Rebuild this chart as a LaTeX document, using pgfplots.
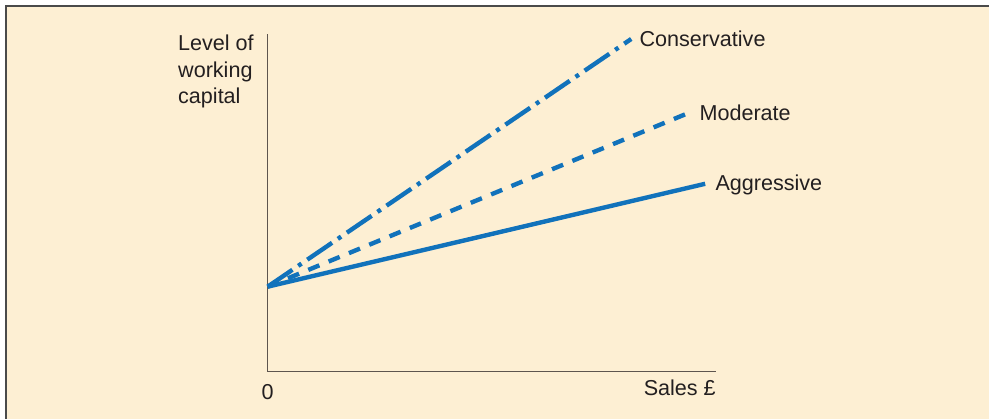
\documentclass[border=0pt]{standalone}
\usepackage{pgfplots}
\pgfplotsset{compat=1.18}
\usepackage{fontspec}
\setmainfont{Liberation Sans}
\definecolor{bg}{HTML}{FDEFD3}
\definecolor{lineblue}{HTML}{1172BB}
\definecolor{axisgrey}{HTML}{5E554E}
\definecolor{txt}{HTML}{231F20}
\definecolor{frame}{HTML}{4A4A4A}
\tikzset{lbl/.style={text=txt,inner sep=0,font=\fontsize{10.8}{13.25}\selectfont}}
\begin{document}
\begin{tikzpicture}[x=0.5pt,y=0.5pt]
\fill[white] (0,0) rectangle (990,419);
\fill[bg] (6,0) rectangle (990,413);
\draw[frame,line width=1.2pt] (6,0) -- (6,413) -- (990,413);
\begin{axis}[
  at={(134pt,23.5pt)}, anchor=origin,
  scale only axis, width=224.5pt, height=169pt,
  xmin=0, xmax=449, ymin=0, ymax=338,
  axis x line*=bottom, axis y line*=left,
  axis line style={axisgrey,line width=0.8pt,-},
  xtick=\empty, ytick=\empty,
  clip=false,
]
\addplot[lineblue,line width=2.2pt,dash pattern=on 15pt off 3.5pt on 2pt off 3.5pt] coordinates {(0,85) (364,333)};
\addplot[lineblue,line width=2.2pt,dash pattern=on 6pt off 5pt] coordinates {(0,85) (424,260)};
\addplot[lineblue,line width=2.2pt] coordinates {(0,85) (438,188)};
\node[lbl,anchor=west] at (axis cs:372,333) {Conservative};
\node[lbl,anchor=west] at (axis cs:432,259) {Moderate};
\node[lbl,anchor=west] at (axis cs:448,187) {Aggressive};
\node[lbl,anchor=north west,align=left] at (axis cs:-90,337) {Level of\\working\\capital};
\node[lbl,anchor=center] at (axis cs:0,-21) {0};
\node[lbl,anchor=east] at (axis cs:449,-16) {Sales \pounds};
\end{axis}
\end{tikzpicture}
\end{document}
